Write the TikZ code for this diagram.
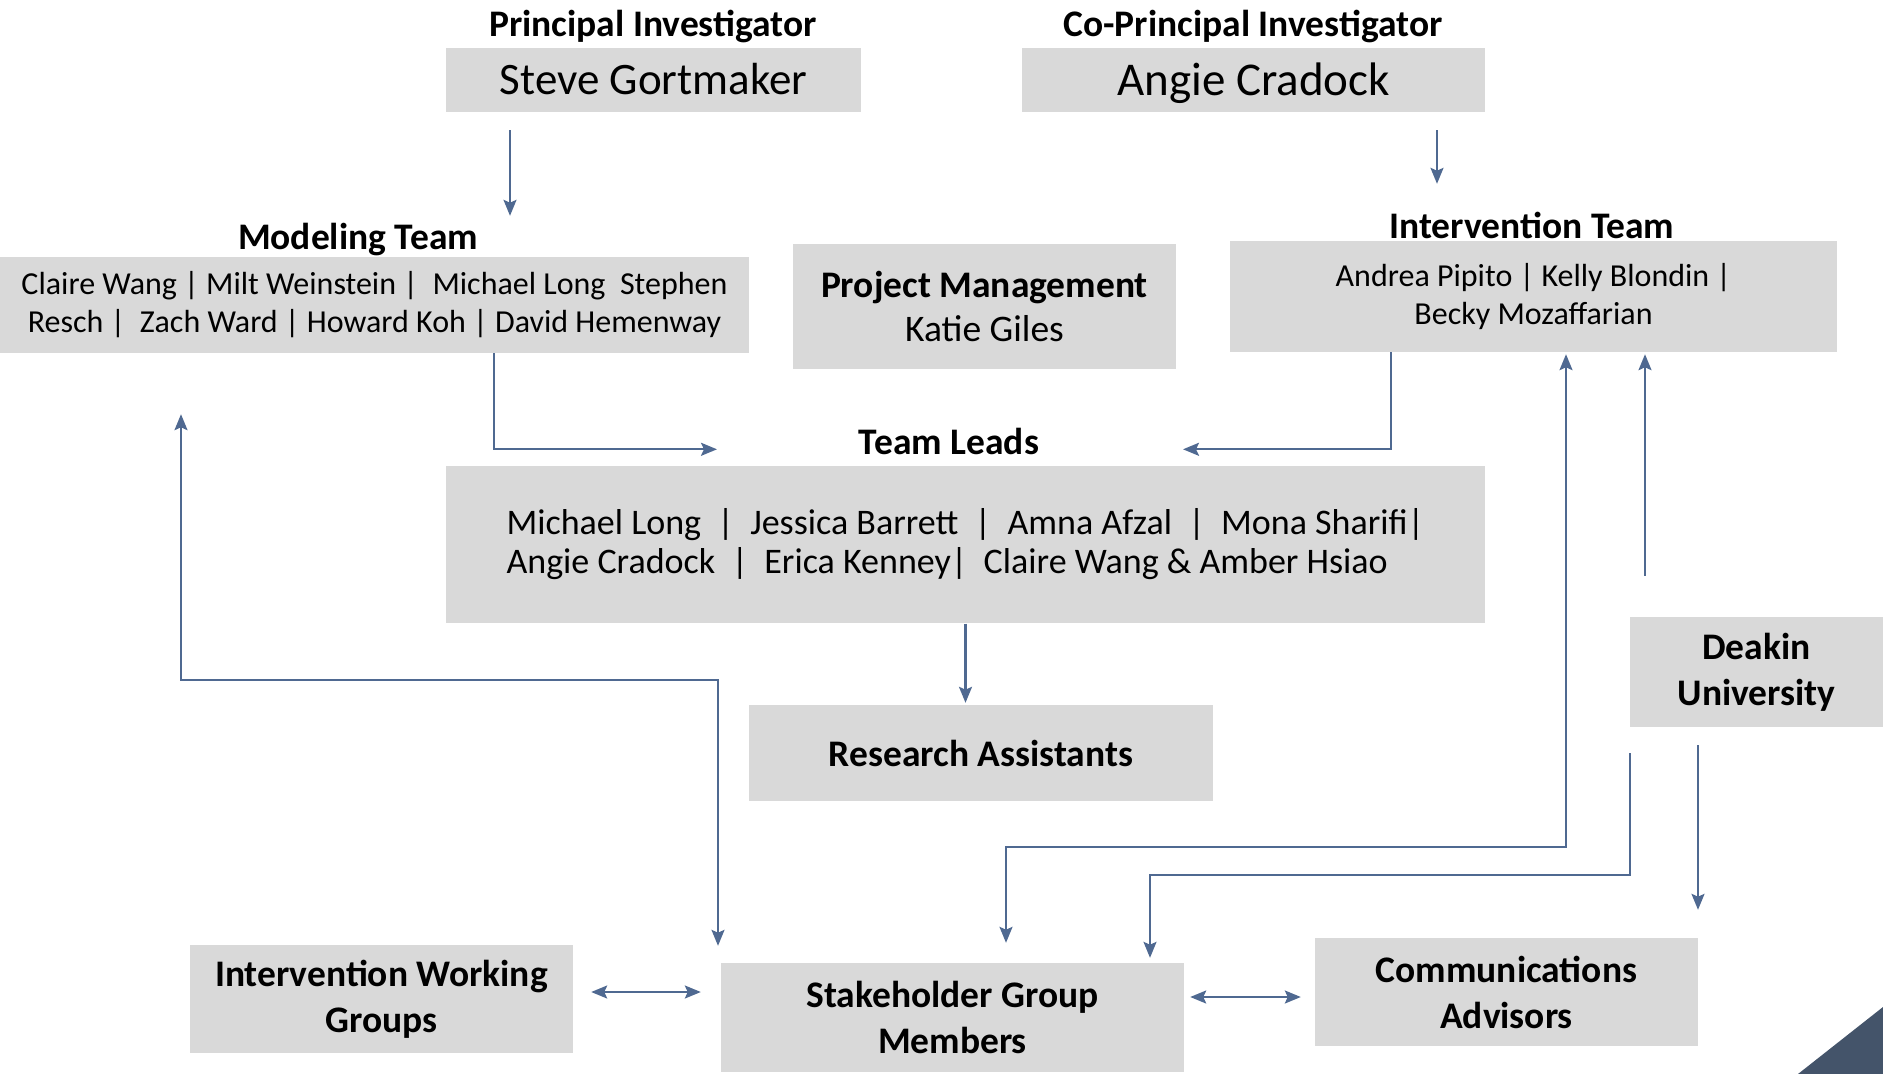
\documentclass[tikz,border=0pt]{standalone}
\usepackage{fontspec}
\setmainfont{Carlito}
\usepackage{tikz}
\usetikzlibrary{arrows.meta, positioning}
\definecolor{boxgray}{HTML}{D9D9D9}
\definecolor{arrowblue}{HTML}{4F6991}
\definecolor{cornerblue}{HTML}{44546A}

\begin{document}
\begin{tikzpicture}[
        x=1pt, y=-1pt,
        box/.style={rectangle, fill=boxgray, inner sep=0pt, align=center, font=\fontsize{37.5}{46}\selectfont\bfseries},
        names/.style={rectangle, fill=boxgray, inner sep=0pt, align=center, font=\fontsize{32}{38}\selectfont},
        title/.style={inner sep=0pt, font=\fontsize{37.5}{44}\selectfont\bfseries},
        arr/.style={-{Stealth[length=16pt, width=13pt, inset=3pt]}, line width=2.3pt, draw=arrowblue},
        darr/.style={{Stealth[length=16pt, width=13pt, inset=3pt]}-{Stealth[length=16pt, width=13pt, inset=3pt]}, line width=2.3pt, draw=arrowblue}
    ]
        \useasboundingbox (0,0) rectangle (1883,1074);

        % Investigators
        \node[title] (pititle) at (653,26) {Principal Investigator};
        \node[names, minimum width=415pt, minimum height=64pt, text height=38pt, text depth=9.5pt, font=\fontsize{45}{52}\selectfont] (pi) at (653.5,80) {Steve Gortmaker};
        \node[title] (copititle) at (1253,26) {Co-Principal Investigator};
        \node[names, minimum width=463pt, minimum height=64pt, text height=40pt, text depth=10pt, font=\fontsize{47}{54}\selectfont] (copi) at (1253.5,80) {Angie Cradock};

        % Teams
        \node[title] (modeltitle) at (358,240) {Modeling Team};
        \node[names, minimum width=749pt, minimum height=96pt] (model) at (374.5,305)
            {Claire Wang | Milt Weinstein |\ \ Michael Long\ \ Stephen\\Resch |\ \ Zach Ward | Howard Koh | David Hemenway};
        \node[box, minimum width=383pt, minimum height=125pt, font=\fontsize{37.5}{44}\selectfont\bfseries] (pm) at (984.5,306.5)
            {Project Management\\\mdseries Katie Giles};
        \node[title] (intervtitle) at (1532,225) {Intervention Team};
        \node[names, minimum width=607pt, minimum height=111pt] (interv) at (1533.5,296.5)
            {Andrea Pipito | Kelly Blondin |\\Becky Mozaffarian};

        % Team leads and assistants
        \node[title] (leadstitle) at (949,441) {Team Leads};
        \node[names, minimum width=1039pt, minimum height=157pt, align=left, font=\fontsize{36}{39}\selectfont] (leads) at (965.5,544)
            {Michael Long \ |\ \ Jessica Barrett \ |\ \ Amna Afzal \ |\ \ Mona Sharifi|\\Angie Cradock \ |\ \ Erica Kenney|\ \ Claire Wang \& Amber Hsiao};
        \node[box, minimum width=464pt, minimum height=96pt] (ra) at (981,753) {Research Assistants};
        \node[box, minimum width=253pt, minimum height=110pt] (deakin) at (1756.5,672) {Deakin\\University};

        % Bottom row
        \node[box, minimum width=383pt, minimum height=108pt] (iwg) at (381.5,999) {Intervention Working\\Groups};
        \node[box, minimum width=463pt, minimum height=109pt] (stake) at (952.5,1017.5) {Stakeholder Group\\Members};
        \node[box, minimum width=383pt, minimum height=108pt] (comm) at (1506.5,992) {Communications\\Advisors};

        % Corner mark
        \fill[cornerblue] (1798,1074) -- (1883,1007) -- (1883,1074) -- cycle;

        % Downward links
        \draw[arr, shorten <=18pt, shorten >=41pt] ([xshift=-143.5pt]pi.south) -- ([xshift=135.5pt]model.north);
        \draw[arr, shorten <=18pt, shorten >=57pt] ([xshift=183.5pt]copi.south) -- ([xshift=-96.5pt]interv.north);
        \draw[arr] ([xshift=119.5pt]model.south) |- ([xshift=-248.5pt, yshift=16pt]leads.north);
        \draw[arr] ([xshift=-142.5pt]interv.south) |- ([xshift=217.5pt, yshift=16pt]leads.north);
        \draw[arr, shorten <=1pt, shorten >=2pt] (leads.south) -- (leads.south |- ra.north);

        % Stakeholder links
        \draw[darr, shorten <=61pt, shorten >=17pt] ([xshift=-193.5pt]model.south) -- ++(0,327) -| ([xshift=-234.5pt]stake.north);
        \draw[darr, shorten <=2pt, shorten >=20pt] ([xshift=32.5pt]interv.south) -- ++(0,495) -| ([xshift=53.5pt]stake.north);
        \draw[darr, shorten <=18pt, shorten >=20pt] ([yshift=7pt]iwg.east) -- ([yshift=25.5pt]stake.west);
        \draw[darr, shorten <=6pt, shorten >=14pt] ([yshift=20.5pt]stake.east) -- ([yshift=-5pt]comm.west);

        % Deakin links
        \draw[arr, shorten <=41pt, shorten >=2pt] ([xshift=-111.5pt]deakin.north) -- ([xshift=111.5pt]interv.south);
        \draw[arr, shorten <=26pt, shorten >=5pt] ([xshift=-126.5pt]deakin.south) -- ++(0,148) -| ([xshift=197.5pt]stake.north);
        \draw[arr, shorten <=18pt, shorten >=28pt] ([xshift=-58.5pt]deakin.south) -- ([xshift=191.5pt]comm.north);
    \end{tikzpicture}
\end{document}
